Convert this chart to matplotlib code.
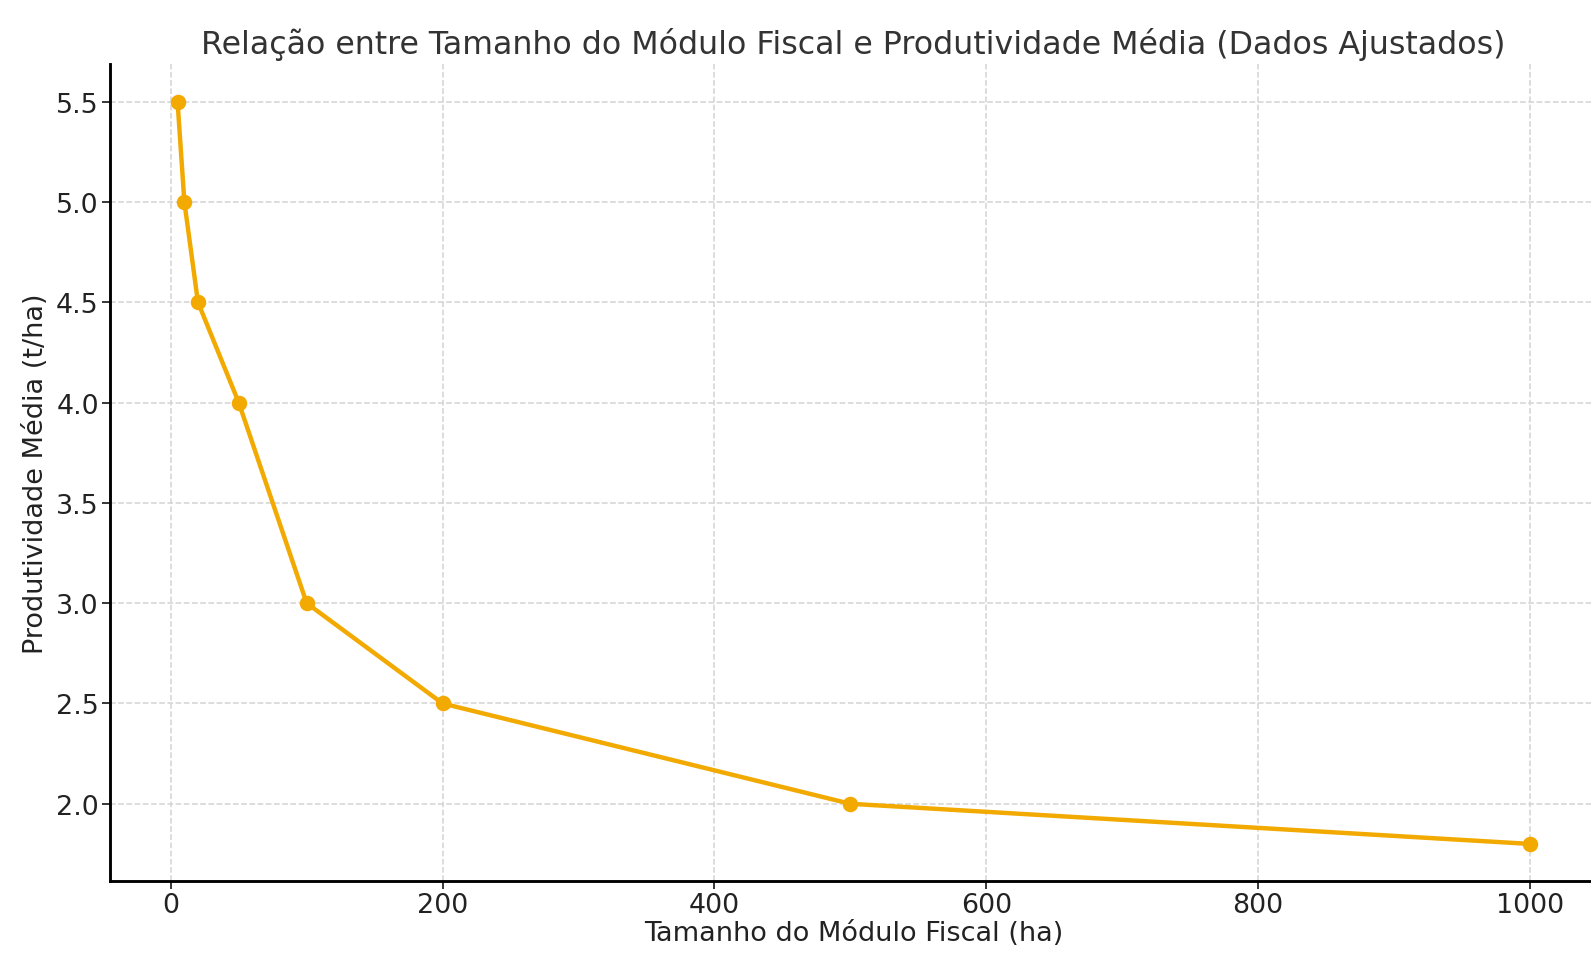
import matplotlib
matplotlib.use("Agg")
import matplotlib.pyplot as plt

# dados ajustados
tamanho = [5, 10, 20, 50, 100, 200, 500, 1000]
produtividade = [5.5, 5.0, 4.5, 4.0, 3.0, 2.5, 2.0, 1.8]
xticks = [0, 200, 400, 600, 800, 1000]
yticks = [2.0, 2.5, 3.0, 3.5, 4.0, 4.5, 5.0, 5.5]

dpi = 159.1
fig = plt.figure(figsize=(1591 / dpi, 955 / dpi), dpi=dpi)
ax = fig.add_axes([0.0691, 0.0764, 0.935, 0.8551])

ax.plot(tamanho, produtividade, marker='o', color='#F2A900', linewidth=2, markersize=6)

ax.set_xticks(xticks)
ax.set_yticks(yticks)
ax.tick_params(labelsize=12.2, colors='#222222', pad=1.5)
ax.grid(True, linestyle='--', color='#d4d4d4', linewidth=0.7)

ax.set_title('Relação entre Tamanho do Módulo Fiscal e Produtividade Média (Dados Ajustados)',
             fontsize=14.3, color='#333333', pad=5)
ax.set_xlabel('Tamanho do Módulo Fiscal (ha)', fontsize=12.3, color='#222222', labelpad=1)
ax.set_ylabel('Produtividade Média (t/ha)', fontsize=12.3, color='#222222', labelpad=3)

ax.spines['top'].set_visible(False)
ax.spines['right'].set_visible(False)
ax.spines['left'].set_linewidth(1.3)
ax.spines['bottom'].set_linewidth(1.3)

fig.savefig('out.png', dpi=dpi)
